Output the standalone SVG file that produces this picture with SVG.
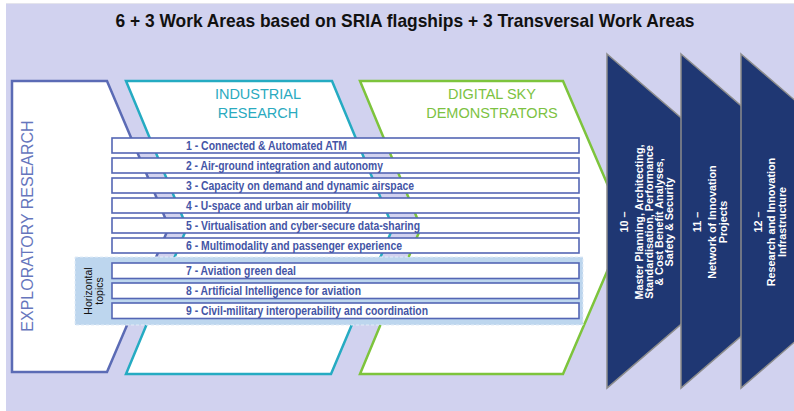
<svg xmlns="http://www.w3.org/2000/svg" width="794" height="411" viewBox="0 0 794 411">
<style>
.row{fill:#ffffff;stroke:#5466b4;stroke-width:1.6}
.rt{font-family:"Liberation Sans",Arial,sans-serif;font-weight:bold;font-size:12px;fill:#4455a6}
.hd{font-family:"Liberation Sans",Arial,sans-serif;font-size:14.5px;text-anchor:middle}
.ar{fill:#1f3773;stroke:#8c8c8c;stroke-width:1.5}
.at{font-family:"Liberation Sans",Arial,sans-serif;font-weight:bold;font-size:10.8px;fill:#ffffff;text-anchor:middle}
</style>
<rect x="0" y="0" width="794" height="411" fill="#ffffff"/>
<rect x="6" y="3" width="788" height="408" fill="#d1d2ef"/>
<line x1="6" y1="3.5" x2="794" y2="3.5" stroke="#e4e4ec" stroke-width="1"/>
<text x="405" y="27" font-family="'Liberation Sans',Arial,sans-serif" font-weight="bold" font-size="19" text-anchor="middle" textLength="579" lengthAdjust="spacingAndGlyphs" fill="#111111">6 + 3 Work Areas based on SRIA flagships + 3 Transversal Work Areas</text>

<g id="exploratory">
<path d="M12,81 L107,81 L169,227 L107,372 L12,372 Z" fill="#ffffff" stroke="#5b6bb5" stroke-width="2.5" stroke-linejoin="miter"/>
<text transform="translate(33,226) rotate(-90)" font-family="'Liberation Sans',Arial,sans-serif" font-size="16" text-anchor="middle" fill="#6676bd">EXPLORATORY RESEARCH</text>
</g>
<g id="industrial">
<path d="M126,81 L332,81 L393,227.5 L331,374 L126,374 L187,227.5 Z" fill="#ffffff" stroke="#25abc2" stroke-width="2.5"/>
<text class="hd" x="258" y="99" fill="#2aaabf">INDUSTRIAL</text>
<text class="hd" x="258" y="118" fill="#2aaabf">RESEARCH</text>
</g>
<g id="digitalsky">
<path d="M360,81 L563,81 L626,227.5 L563,374 L360,374 L421,227.5 Z" fill="#ffffff" stroke="#7dc43c" stroke-width="2.5"/>
<text class="hd" x="492" y="99" fill="#7cc242">DIGITAL SKY</text>
<text class="hd" x="492" y="118" fill="#7cc242">DEMONSTRATORS</text>
</g>

<g id="rows">
<rect class="row" x="112" y="138" width="467" height="15"/>
<text class="rt" x="186" y="150" textLength="161" lengthAdjust="spacingAndGlyphs">1 - Connected &amp; Automated ATM</text>
<rect class="row" x="112" y="158" width="467" height="15"/>
<text class="rt" x="186" y="170" textLength="197" lengthAdjust="spacingAndGlyphs">2 - Air-ground integration and autonomy</text>
<rect class="row" x="112" y="178" width="467" height="15"/>
<text class="rt" x="186" y="190" textLength="228" lengthAdjust="spacingAndGlyphs">3 - Capacity on demand and dynamic airspace</text>
<rect class="row" x="112" y="198" width="467" height="15"/>
<text class="rt" x="186" y="210" textLength="165" lengthAdjust="spacingAndGlyphs">4 - U-space and urban air mobility</text>
<rect class="row" x="112" y="218" width="467" height="15"/>
<text class="rt" x="186" y="230" textLength="234" lengthAdjust="spacingAndGlyphs">5 - Virtualisation and cyber-secure data-sharing</text>
<rect class="row" x="112" y="238" width="467" height="15"/>
<text class="rt" x="186" y="250" textLength="216" lengthAdjust="spacingAndGlyphs">6 - Multimodality and passenger experience</text>
</g>

<g id="horizontal">
<rect x="75" y="257" width="508" height="68" fill="#bdd6ee" stroke="#e2ecf7" stroke-width="1" stroke-dasharray="3,2"/>
<text transform="translate(92,291) rotate(-90)" font-family="'Liberation Sans',Arial,sans-serif" font-size="10.5" text-anchor="middle" fill="#111111">Horizontal</text>
<text transform="translate(103,291) rotate(-90)" font-family="'Liberation Sans',Arial,sans-serif" font-size="10.5" text-anchor="middle" fill="#111111">topics</text>
<rect class="row" x="112" y="263" width="467" height="15.5"/>
<text class="rt" x="186" y="275" textLength="110" lengthAdjust="spacingAndGlyphs">7 - Aviation green deal</text>
<rect class="row" x="112" y="283" width="467" height="15.5"/>
<text class="rt" x="186" y="295" textLength="175" lengthAdjust="spacingAndGlyphs">8 - Artificial Intelligence for aviation</text>
<rect class="row" x="112" y="303" width="467" height="15.5"/>
<text class="rt" x="186" y="315" textLength="242" lengthAdjust="spacingAndGlyphs">9 - Civil-military interoperability and coordination</text>
</g>

<g id="wa10">
<path class="ar" d="M607,54 L801,221 L607,388 Z"/>
<text class="at" transform="translate(628,222) rotate(-90)">10 –</text>
<text class="at" transform="translate(643,222) rotate(-90)">Master Planning, Architecting,</text>
<text class="at" transform="translate(653,222) rotate(-90)">Standardisation, Performance</text>
<text class="at" transform="translate(663,222) rotate(-90)">&amp; Cost Benefit Analyses,</text>
<text class="at" transform="translate(673,222) rotate(-90)">Safety &amp; Security</text>
</g>
<g id="wa11">
<path class="ar" d="M681,54 L875,221 L681,388 Z"/>
<text class="at" transform="translate(701,222) rotate(-90)">11 –</text>
<text class="at" transform="translate(716,222) rotate(-90)">Network of Innovation</text>
<text class="at" transform="translate(727,222) rotate(-90)">Projects</text>
</g>
<g id="wa12">
<path class="ar" d="M741,54 L935,221 L741,388 Z"/>
<text class="at" transform="translate(762,222) rotate(-90)">12 –</text>
<text class="at" transform="translate(775,222) rotate(-90)">Research and Innovation</text>
<text class="at" transform="translate(786,222) rotate(-90)">Infrastructure</text>
</g>
</svg>
